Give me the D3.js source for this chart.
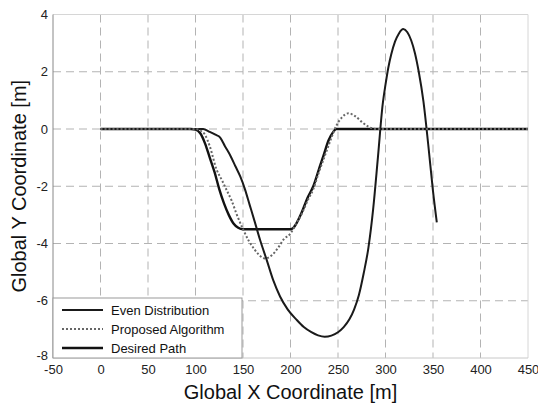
<!DOCTYPE html>
<html>
<head>
<meta charset="utf-8">
<script src="https://cdn.jsdelivr.net/npm/d3@7"></script>
<style>
  html, body { margin: 0; padding: 0; background: #fff; }
  svg { display: block; font-family: "Liberation Sans", Arial, Helvetica, sans-serif; }
</style>
</head>
<body>
<svg id="chart" width="538" height="406"></svg>
<script>
// ---- data ----
const xTicks = [-50, 0, 50, 100, 150, 200, 250, 300, 350, 400, 450];
const yTicks = [-8, -6, -4, -2, 0, 2, 4];

const desiredX = [0, 95, 100, 105, 110, 115, 120, 125, 130, 135, 140, 145, 150, 200, 203, 207, 212, 218, 224, 230, 235, 240, 245, 248, 450];
const desiredY = [0, 0, -0.02, -0.15, -0.5, -1.0, -1.5, -2.1, -2.6, -3.0, -3.3, -3.45, -3.5, -3.5, -3.45, -3.25, -2.9, -2.4, -2.0, -1.4, -0.9, -0.4, -0.1, 0, 0];

const proposedX = [0, 100, 105, 110, 115, 122, 128, 133, 138, 143, 150, 156, 162, 167, 173, 180, 187, 193, 200, 206, 212, 218, 224, 230, 236, 242, 248, 254, 261, 268, 275, 282, 290, 450];
const proposedY = [0, 0, -0.05, -0.2, -0.6, -1.4, -1.8, -2.15, -2.5, -2.95, -3.5, -3.9, -4.2, -4.4, -4.52, -4.42, -4.15, -3.85, -3.65, -3.3, -2.95, -2.5, -2.1, -1.5, -0.95, -0.4, 0.1, 0.4, 0.55, 0.45, 0.25, 0.08, 0, 0];

const evenX = [0, 108, 115, 121, 126, 131, 137, 142, 147, 152, 157, 162, 168, 175, 182, 189, 197, 206, 214, 222, 229, 236, 243, 250, 256, 262, 267, 272, 277, 282, 287, 292, 297, 300, 303, 306, 310, 314, 318.7, 323, 327, 331, 335, 340, 345, 350, 354];
const evenY = [0, 0, -0.1, -0.2, -0.3, -0.6, -0.95, -1.3, -1.65, -2.1, -2.65, -3.2, -3.88, -4.58, -5.3, -5.85, -6.3, -6.65, -6.92, -7.1, -7.21, -7.26, -7.22, -7.1, -6.92, -6.65, -6.3, -5.8, -5.05, -4.15, -2.8, -1.0, 0.85, 1.55, 2.15, 2.6, 3.05, 3.33, 3.49, 3.38, 3.1, 2.65, 2.0, 0.95, -0.55, -2.17, -3.26];

const legendLabels = ["Even Distribution", "Proposed Algorithm", "Desired Path"];
const xTitle = "Global X Coordinate [m]";
const yTitle = "Global Y Coordinate [m]";

// ---- layout ----
const L = 53, R = 528, T = 14.5, B = 358;
const svg = d3.select("#chart");
const x = d3.scaleLinear().domain([-50, 450]).range([L, R]);
const y = d3.scaleLinear().domain([-8, 4]).range([B, T]);
const fmt = d => String(d);

// grid
const grid = svg.append("g");
grid.selectAll("line.vx").data(xTicks.slice(1, -1)).join("line")
  .attr("x1", d => x(d)).attr("x2", d => x(d)).attr("y1", T).attr("y2", B)
  .attr("stroke", "#b3b3b3").attr("stroke-width", 1).attr("stroke-dasharray", "8,5");
grid.selectAll("line.hy").data(yTicks.slice(1, -1)).join("line")
  .attr("x1", L).attr("x2", R).attr("y1", d => y(d)).attr("y2", d => y(d))
  .attr("stroke", "#b3b3b3").attr("stroke-width", 1).attr("stroke-dasharray", "8,5");

// frame
svg.append("line").attr("x1", L).attr("x2", R).attr("y1", T).attr("y2", T).attr("stroke", "#d6d6d6");
svg.append("line").attr("x1", R).attr("x2", R).attr("y1", T).attr("y2", B).attr("stroke", "#d6d6d6");
svg.append("line").attr("x1", L).attr("x2", R).attr("y1", B).attr("y2", B).attr("stroke", "#c8c8c8");
svg.append("line").attr("x1", L).attr("x2", L).attr("y1", T).attr("y2", B).attr("stroke", "#888");

// axes (labels only)
const xAxis = d3.axisBottom(x).tickValues(xTicks).tickSize(0).tickPadding(0).tickFormat(fmt);
const gx = svg.append("g").attr("transform", `translate(0,${B})`).call(xAxis);
gx.select(".domain").remove();
gx.selectAll("text").attr("y", 7).attr("dy", "0.71em").attr("font-size", 13).attr("fill", "#222")
  .attr("font-family", "Liberation Sans, Arial, sans-serif");

const yAxis = d3.axisLeft(y).tickValues(yTicks).tickSize(0).tickPadding(0).tickFormat(fmt);
const gy = svg.append("g").attr("transform", `translate(${L},0)`).call(yAxis);
gy.select(".domain").remove();
gy.selectAll("text").attr("x", -5).attr("dy", d => d === -8 ? "0.1em" : "0.32em").attr("font-size", 13).attr("fill", "#222")
  .attr("font-family", "Liberation Sans, Arial, sans-serif");

// titles
svg.append("text").attr("x", (L + R) / 2).attr("y", 399).attr("text-anchor", "middle")
  .attr("font-size", 20).attr("fill", "#111").text(xTitle);
svg.append("text").attr("transform", `translate(26,${(T + B) / 2}) rotate(-90)`).attr("text-anchor", "middle")
  .attr("font-size", 20).attr("fill", "#111").text(yTitle);

// lines
const line = d3.line().x(d => x(d[0])).y(d => y(d[1])).curve(d3.curveMonotoneX);
const zip = (a, b) => a.map((v, i) => [v, b[i]]);

const plot = svg.append("g");
plot.append("path").datum(zip(desiredX, desiredY)).attr("d", line)
  .attr("fill", "none").attr("stroke", "#111").attr("stroke-width", 2.4).attr("stroke-linejoin", "round");
plot.append("path").datum(zip(evenX, evenY)).attr("d", line)
  .attr("fill", "none").attr("stroke", "#1a1a1a").attr("stroke-width", 2).attr("stroke-linejoin", "round");
plot.append("path").datum(zip(proposedX, proposedY)).attr("d", line)
  .attr("fill", "none").attr("stroke", "#666").attr("stroke-width", 2).attr("stroke-dasharray", "2,2");

// legend
const lg = svg.append("g");
lg.append("rect").attr("x", L).attr("y", 298).attr("width", 189).attr("height", B - 298)
  .attr("fill", "#fff").attr("stroke", "#999").attr("stroke-width", 1);
const styles = [
  { stroke: "#1a1a1a", w: 2, dash: null },
  { stroke: "#666", w: 2, dash: "2,2" },
  { stroke: "#111", w: 2.4, dash: null }
];
const rowY = [310, 329, 348];
legendLabels.forEach((lab, i) => {
  lg.append("line").attr("x1", 62).attr("x2", 103).attr("y1", rowY[i]).attr("y2", rowY[i])
    .attr("stroke", styles[i].stroke).attr("stroke-width", styles[i].w)
    .attr("stroke-dasharray", styles[i].dash);
  lg.append("text").attr("x", 111).attr("y", rowY[i]).attr("dy", "0.35em")
    .attr("font-size", 13).attr("fill", "#111").text(lab);
});
</script>
</body>
</html>
